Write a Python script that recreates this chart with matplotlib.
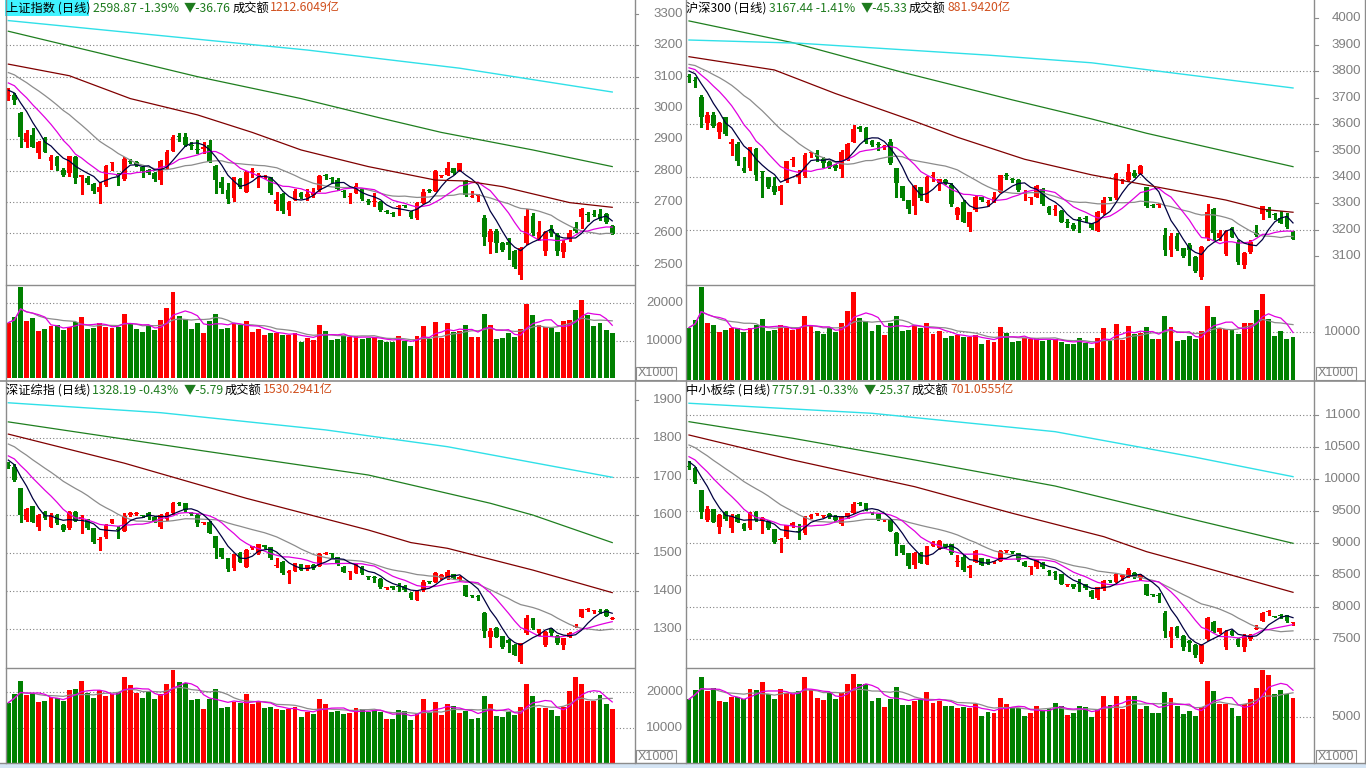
import numpy as np
import pandas as pd
import matplotlib
matplotlib.use('Agg')
import matplotlib.pyplot as plt
from matplotlib.patches import Rectangle
from matplotlib.transforms import blended_transform_factory

W, H = 1366, 768

# ---------------------------------------------------------------------------
# data: 100 daily candles per index, volume in x1000
# ---------------------------------------------------------------------------

# 上证指数
SH_OPEN = [3038, 3041, 2983, 2892, 2914, 2857, 2903, 2832, 2843, 2802,
           2792, 2845, 2779, 2776, 2757, 2733, 2754, 2823, 2784, 2773,
           2831, 2829, 2812, 2802, 2793, 2770, 2813, 2864, 2910, 2908,
           2880, 2869, 2868, 2882, 2815, 2765, 2738, 2712, 2772, 2733,
           2796, 2782, 2779, 2776, 2693, 2725, 2674, 2706, 2730, 2715,
           2722, 2738, 2784, 2776, 2770, 2734, 2716, 2730, 2740, 2702,
           2700, 2701, 2670, 2663, 2684, 2688, 2669, 2648, 2698, 2737,
           2736, 2782, 2786, 2807, 2800, 2768, 2716, 2718, 2648, 2573,
           2608, 2570, 2573, 2544, 2467, 2568, 2655, 2581, 2544, 2613,
           2595, 2541, 2581, 2619, 2651, 2662, 2660, 2662, 2662, 2623]
SH_CLOSE = [3041, 3025, 2908, 2919, 2876, 2892, 2861, 2845, 2816, 2786,
            2847, 2777, 2786, 2762, 2736, 2747, 2815, 2825, 2782, 2838,
            2829, 2818, 2800, 2793, 2772, 2832, 2861, 2908, 2907, 2882,
            2878, 2867, 2876, 2829, 2770, 2744, 2708, 2779, 2747, 2797,
            2798, 2784, 2783, 2728, 2706, 2672, 2700, 2736, 2717, 2725,
            2730, 2783, 2782, 2774, 2740, 2732, 2718, 2751, 2709, 2700,
            2703, 2674, 2668, 2661, 2686, 2686, 2653, 2698, 2733, 2735,
            2800, 2784, 2807, 2793, 2823, 2722, 2718, 2720, 2587, 2608,
            2570, 2547, 2563, 2491, 2552, 2655, 2600, 2605, 2605, 2602,
            2544, 2570, 2602, 2608, 2677, 2660, 2658, 2645, 2636, 2599]
SH_HIGH = [3064, 3048, 2987, 2930, 2935, 2894, 2906, 2850, 2846, 2808,
           2848, 2847, 2787, 2783, 2760, 2765, 2818, 2829, 2793, 2845,
           2836, 2832, 2815, 2804, 2795, 2834, 2866, 2914, 2919, 2919,
           2892, 2898, 2890, 2898, 2818, 2781, 2760, 2781, 2776, 2800,
           2807, 2792, 2786, 2779, 2733, 2728, 2702, 2741, 2733, 2741,
           2746, 2786, 2790, 2780, 2775, 2738, 2728, 2762, 2744, 2708,
           2728, 2704, 2675, 2668, 2690, 2689, 2671, 2700, 2741, 2741,
           2801, 2787, 2829, 2810, 2826, 2771, 2736, 2726, 2658, 2614,
           2614, 2571, 2584, 2547, 2557, 2676, 2664, 2638, 2608, 2627,
           2600, 2578, 2612, 2635, 2680, 2669, 2675, 2677, 2665, 2625]
SH_LOW = [3026, 3013, 2876, 2876, 2874, 2839, 2858, 2804, 2802, 2783,
          2783, 2760, 2724, 2757, 2730, 2696, 2752, 2802, 2754, 2770,
          2825, 2815, 2781, 2790, 2768, 2757, 2810, 2862, 2896, 2880,
          2868, 2855, 2855, 2827, 2730, 2728, 2696, 2703, 2745, 2731,
          2781, 2747, 2775, 2725, 2674, 2664, 2658, 2705, 2712, 2706,
          2715, 2736, 2772, 2765, 2738, 2717, 2696, 2728, 2706, 2695,
          2687, 2672, 2664, 2656, 2658, 2684, 2650, 2646, 2697, 2731,
          2735, 2780, 2786, 2790, 2798, 2720, 2715, 2703, 2563, 2538,
          2541, 2544, 2517, 2490, 2453, 2567, 2595, 2580, 2531, 2590,
          2530, 2525, 2576, 2605, 2617, 2640, 2655, 2643, 2633, 2597]
SH_VOL = [14750, 16180, 24350, 15280, 15910, 12620, 13070, 13950, 14130, 12890,
          13690, 14840, 16350, 13070, 13420, 14750, 13690, 13420, 13690, 17150,
          14750, 12980, 12350, 13870, 12800, 15470, 18750, 22930, 16620, 15640,
          13070, 14750, 12090, 15200, 17150, 12980, 13420, 14580, 14040, 15200,
          12350, 12980, 11380, 11910, 12090, 11470, 11470, 12090, 9690, 10750,
          10130, 14220, 12530, 10220, 10490, 11290, 11020, 11200, 10490, 10580,
          10850, 10130, 9690, 9510, 11200, 9950, 8530, 11200, 13870, 10490,
          15020, 10670, 14580, 12350, 12620, 14220, 11020, 11020, 17150, 14220,
          10490, 10750, 11910, 10850, 13150, 19820, 16890, 14040, 13510, 13330,
          12350, 15280, 15560, 18130, 20800, 16890, 13870, 14670, 12800, 12090]
SH_PRE = [3170, 3165, 3160, 3155, 3150, 3145, 3140, 3132, 3125, 3118,
          3115, 3110, 3102, 3098, 3090, 3070, 3065, 3058, 3051]
SH_MA60_X = [0, 10, 20, 31, 40, 48, 59, 70, 75, 81, 92, 99]
SH_MA60 = [3140, 3103, 3030, 2978, 2922, 2866, 2813, 2770, 2767, 2749, 2698, 2683]
SH_MA120_X = [0, 15, 31, 48, 61, 71, 86, 99]
SH_MA120 = [3245, 3175, 3100, 3030, 2968, 2922, 2866, 2813]
SH_MA250_X = [0, 49, 74, 99]
SH_MA250 = [3279, 3185, 3127, 3051]

# 沪深300
HS_OPEN = [3778, 3765, 3703, 3605, 3634, 3571, 3625, 3523, 3523, 3433,
           3433, 3506, 3422, 3399, 3366, 3348, 3385, 3463, 3399, 3404,
           3490, 3492, 3467, 3458, 3445, 3429, 3467, 3533, 3588, 3584,
           3537, 3524, 3513, 3533, 3433, 3366, 3313, 3291, 3361, 3307,
           3402, 3376, 3389, 3370, 3257, 3307, 3212, 3275, 3323, 3300,
           3307, 3345, 3405, 3392, 3389, 3335, 3322, 3326, 3354, 3288,
           3274, 3273, 3229, 3219, 3241, 3245, 3225, 3197, 3263, 3321,
           3320, 3385, 3389, 3416, 3411, 3361, 3292, 3294, 3181, 3125,
           3177, 3131, 3143, 3097, 3021, 3169, 3278, 3169, 3109, 3206,
           3152, 3068, 3118, 3190, 3260, 3278, 3258, 3244, 3253, 3197]
HS_CLOSE = [3776, 3763, 3625, 3634, 3592, 3605, 3562, 3533, 3462, 3423,
            3512, 3408, 3420, 3363, 3345, 3366, 3460, 3465, 3411, 3483,
            3492, 3474, 3452, 3439, 3433, 3495, 3525, 3580, 3580, 3533,
            3521, 3522, 3515, 3452, 3376, 3320, 3278, 3366, 3320, 3401,
            3404, 3391, 3376, 3298, 3282, 3231, 3269, 3326, 3313, 3302,
            3326, 3408, 3403, 3390, 3351, 3337, 3324, 3366, 3298, 3263,
            3276, 3231, 3227, 3203, 3239, 3243, 3206, 3269, 3313, 3319,
            3411, 3387, 3420, 3404, 3442, 3291, 3290, 3296, 3125, 3177,
            3127, 3102, 3125, 3046, 3137, 3269, 3188, 3188, 3197, 3175,
            3080, 3112, 3156, 3181, 3291, 3269, 3256, 3228, 3213, 3167]
HS_HIGH = [3789, 3779, 3710, 3646, 3646, 3609, 3628, 3542, 3533, 3477,
           3512, 3508, 3422, 3401, 3401, 3370, 3462, 3474, 3426, 3492,
           3495, 3502, 3477, 3460, 3449, 3502, 3528, 3596, 3592, 3590,
           3540, 3533, 3520, 3542, 3433, 3366, 3313, 3370, 3363, 3404,
           3420, 3391, 3391, 3376, 3285, 3313, 3269, 3330, 3326, 3313,
           3345, 3408, 3416, 3395, 3391, 3351, 3326, 3370, 3357, 3291,
           3294, 3275, 3240, 3225, 3250, 3253, 3228, 3270, 3326, 3326,
           3416, 3391, 3449, 3426, 3445, 3363, 3298, 3300, 3206, 3190,
           3190, 3133, 3150, 3100, 3140, 3298, 3282, 3200, 3200, 3212,
           3162, 3118, 3162, 3219, 3291, 3285, 3263, 3270, 3263, 3197]
HS_LOW = [3760, 3741, 3588, 3580, 3590, 3546, 3560, 3483, 3445, 3420,
          3426, 3389, 3323, 3360, 3336, 3298, 3383, 3442, 3379, 3401,
          3477, 3462, 3436, 3433, 3426, 3401, 3465, 3533, 3575, 3530,
          3518, 3502, 3505, 3449, 3326, 3313, 3263, 3260, 3313, 3304,
          3386, 3350, 3374, 3291, 3243, 3231, 3197, 3272, 3310, 3290,
          3305, 3343, 3391, 3381, 3348, 3313, 3298, 3323, 3294, 3260,
          3257, 3229, 3213, 3200, 3193, 3231, 3204, 3195, 3260, 3313,
          3318, 3379, 3386, 3401, 3410, 3288, 3285, 3285, 3106, 3100,
          3125, 3097, 3068, 3040, 3015, 3162, 3162, 3162, 3106, 3172,
          3070, 3055, 3112, 3178, 3240, 3250, 3240, 3225, 3208, 3165]
HS_VOL = [11000, 12500, 19500, 12000, 11500, 10000, 10500, 11000, 11000, 10000,
          11000, 11500, 12800, 10300, 10500, 11500, 10800, 10500, 10800, 13500,
          11500, 10200, 9700, 10800, 10000, 12000, 14500, 18500, 13000, 12300,
          10200, 11500, 9500, 12000, 13500, 10200, 10500, 11400, 11000, 12000,
          9700, 10200, 8900, 9300, 9500, 9000, 9000, 9500, 7600, 8400,
          7900, 11200, 9800, 8000, 8200, 8800, 8600, 8800, 8200, 8300,
          8500, 8000, 7600, 7500, 8800, 7800, 6700, 8800, 10900, 8200,
          11800, 8400, 11400, 9700, 9900, 11200, 8600, 8600, 13500, 11200,
          8200, 8400, 9300, 8500, 10300, 15500, 13200, 11000, 10600, 10400,
          9700, 12000, 11950, 14680, 18030, 12720, 9220, 10270, 8600, 8950]
HS_PRE = [3850, 3848, 3845, 3842, 3840, 3836, 3834, 3832, 3828, 3825,
          3830, 3828, 3824, 3820, 3818, 3815, 3810, 3802, 3797]
HS_MA60_X = [0, 14, 24, 37, 44, 55, 66, 77, 88, 94, 99]
HS_MA60 = [3854, 3804, 3715, 3610, 3550, 3467, 3408, 3361, 3313, 3278, 3267]
HS_MA120_X = [0, 17, 35, 53, 66, 75, 99]
HS_MA120 = [3989, 3907, 3795, 3691, 3619, 3565, 3439]
HS_MA250_X = [0, 18, 49, 66, 99]
HS_MA250 = [3917, 3905, 3860, 3831, 3736]

# 深证综指
SZ_OPEN = [1730, 1724, 1669, 1586, 1623, 1569, 1608, 1569, 1599, 1573,
           1564, 1608, 1588, 1586, 1564, 1535, 1542, 1578, 1561, 1558,
           1598, 1603, 1598, 1605, 1595, 1567, 1588, 1604, 1629, 1630,
           1605, 1599, 1577, 1582, 1544, 1512, 1486, 1460, 1501, 1464,
           1512, 1499, 1520, 1515, 1467, 1477, 1447, 1453, 1471, 1457,
           1468, 1466, 1498, 1498, 1488, 1464, 1450, 1448, 1464, 1437,
           1437, 1431, 1409, 1413, 1413, 1413, 1396, 1377, 1403, 1426,
           1425, 1434, 1438, 1445, 1431, 1416, 1388, 1386, 1342, 1279,
           1303, 1282, 1272, 1259, 1215, 1290, 1329, 1291, 1259, 1300,
           1282, 1259, 1281, 1306, 1331, 1351, 1348, 1347, 1351, 1327]
SZ_CLOSE = [1728, 1691, 1599, 1614, 1582, 1599, 1591, 1599, 1578, 1560,
            1608, 1584, 1595, 1564, 1529, 1537, 1573, 1588, 1559, 1597,
            1605, 1604, 1597, 1593, 1582, 1599, 1605, 1630, 1627, 1612,
            1603, 1578, 1579, 1553, 1512, 1488, 1457, 1497, 1477, 1508,
            1518, 1523, 1515, 1486, 1469, 1447, 1453, 1473, 1455, 1468,
            1460, 1497, 1500, 1497, 1471, 1451, 1452, 1471, 1447, 1436,
            1435, 1410, 1411, 1407, 1411, 1403, 1381, 1403, 1425, 1424,
            1448, 1442, 1451, 1434, 1438, 1387, 1386, 1384, 1296, 1296,
            1281, 1254, 1263, 1233, 1263, 1329, 1303, 1300, 1294, 1291,
            1263, 1276, 1291, 1308, 1352, 1353, 1350, 1345, 1334, 1328]
SZ_HIGH = [1739, 1732, 1669, 1617, 1624, 1601, 1610, 1604, 1601, 1575,
           1609, 1610, 1599, 1590, 1566, 1542, 1575, 1589, 1570, 1604,
           1608, 1607, 1600, 1608, 1597, 1601, 1606, 1632, 1632, 1631,
           1606, 1601, 1581, 1583, 1545, 1514, 1487, 1498, 1502, 1510,
           1519, 1524, 1521, 1516, 1486, 1480, 1455, 1474, 1472, 1469,
           1470, 1499, 1502, 1499, 1490, 1466, 1453, 1472, 1466, 1440,
           1440, 1433, 1412, 1414, 1420, 1415, 1397, 1404, 1428, 1427,
           1449, 1445, 1455, 1446, 1440, 1417, 1390, 1390, 1345, 1303,
           1305, 1283, 1275, 1261, 1264, 1337, 1330, 1302, 1295, 1303,
           1284, 1277, 1293, 1313, 1353, 1356, 1351, 1353, 1352, 1331]
SZ_LOW = [1723, 1688, 1582, 1584, 1581, 1560, 1589, 1567, 1576, 1558,
          1563, 1583, 1553, 1562, 1527, 1508, 1540, 1577, 1538, 1557,
          1597, 1600, 1594, 1588, 1580, 1566, 1587, 1603, 1625, 1610,
          1600, 1570, 1575, 1551, 1486, 1487, 1453, 1455, 1476, 1463,
          1511, 1498, 1514, 1485, 1464, 1444, 1422, 1452, 1454, 1455,
          1458, 1465, 1496, 1490, 1469, 1449, 1431, 1447, 1446, 1431,
          1425, 1408, 1405, 1406, 1401, 1401, 1380, 1376, 1401, 1420,
          1424, 1432, 1432, 1433, 1430, 1386, 1384, 1378, 1280, 1254,
          1280, 1252, 1240, 1232, 1213, 1289, 1302, 1286, 1256, 1286,
          1261, 1249, 1280, 1305, 1331, 1348, 1342, 1343, 1334, 1326]
SZ_VOL = [17030, 19580, 23160, 19210, 19690, 17320, 17600, 18730, 18280, 17600,
          20620, 20900, 23160, 19690, 18450, 20620, 19010, 19400, 20140, 24380,
          22030, 19690, 18450, 19970, 18080, 19400, 22320, 26270, 22880, 22510,
          17800, 18080, 15250, 17990, 20900, 15620, 15900, 17150, 16860, 19580,
          16580, 17150, 15620, 15900, 15250, 14970, 15170, 15730, 13080, 14490,
          13760, 18080, 16670, 14490, 14690, 13760, 14040, 15540, 15250, 14490,
          14970, 14490, 12510, 12510, 14970, 14690, 12150, 13760, 18080, 14490,
          17150, 13560, 16670, 16190, 14040, 14690, 12340, 12630, 18930, 16670,
          13360, 13080, 14320, 13560, 15900, 22320, 19010, 15450, 15620, 14970,
          13280, 15900, 20420, 24380, 22320, 17510, 17510, 19290, 16670, 15250]
SZ_PRE = [1835, 1830, 1826, 1821, 1817, 1814, 1810, 1806, 1803, 1798,
          1772, 1768, 1765, 1762, 1758, 1752, 1749, 1745, 1741]
SZ_MA60_X = [0, 19, 39, 59, 66, 72, 86, 99]
SZ_MA60 = [1811, 1735, 1643, 1560, 1527, 1512, 1455, 1396]
SZ_MA120_X = [0, 32, 59, 79, 86, 99]
SZ_MA120 = [1843, 1767, 1704, 1630, 1599, 1527]
SZ_MA250_X = [0, 25, 52, 72, 99]
SZ_MA250 = [1893, 1867, 1822, 1778, 1698]

# 中小板综
ZX_OPEN = [10195, 10172, 9833, 9364, 9531, 9250, 9494, 9234, 9442, 9302,
           9234, 9494, 9353, 9353, 9219, 9045, 9094, 9270, 9185, 9156,
           9406, 9455, 9424, 9458, 9427, 9302, 9406, 9478, 9618, 9625,
           9482, 9458, 9360, 9375, 9166, 8973, 8844, 8661, 8853, 8677,
           8958, 8922, 8989, 8989, 8710, 8791, 8609, 8713, 8766, 8750,
           8700, 8728, 8880, 8872, 8844, 8713, 8622, 8625, 8697, 8560,
           8545, 8520, 8345, 8364, 8368, 8364, 8259, 8141, 8281, 8420,
           8400, 8469, 8478, 8541, 8453, 8364, 8196, 8180, 7916, 7531,
           7688, 7552, 7478, 7411, 7150, 7500, 7775, 7619, 7384, 7634,
           7500, 7384, 7500, 7668, 7791, 7928, 7856, 7866, 7880, 7750]
ZX_CLOSE = [10188, 9963, 9494, 9531, 9338, 9442, 9375, 9427, 9338, 9219,
            9478, 9364, 9391, 9234, 9025, 9052, 9286, 9322, 9181, 9406,
            9442, 9458, 9427, 9406, 9364, 9416, 9469, 9614, 9614, 9531,
            9478, 9375, 9364, 9197, 8989, 8844, 8645, 8853, 8697, 8958,
            9025, 9041, 8938, 8844, 8713, 8583, 8645, 8884, 8661, 8677,
            8720, 8884, 8884, 8869, 8739, 8645, 8625, 8739, 8625, 8556,
            8541, 8364, 8348, 8313, 8364, 8297, 8166, 8313, 8416, 8416,
            8520, 8505, 8583, 8469, 8505, 8192, 8192, 8177, 7634, 7634,
            7552, 7384, 7438, 7255, 7411, 7828, 7634, 7672, 7603, 7567,
            7411, 7552, 7567, 7672, 7906, 7931, 7853, 7864, 7783, 7758]
ZX_HIGH = [10291, 10188, 9833, 9580, 9540, 9460, 9500, 9460, 9450, 9310,
           9490, 9500, 9406, 9360, 9225, 9080, 9290, 9330, 9300, 9420,
           9460, 9470, 9440, 9470, 9440, 9430, 9475, 9640, 9640, 9630,
           9490, 9465, 9370, 9380, 9181, 8980, 8853, 8860, 8860, 8965,
           9030, 9045, 8995, 8995, 8817, 8815, 8661, 8890, 8775, 8760,
           8730, 8890, 8900, 8880, 8850, 8720, 8630, 8745, 8705, 8580,
           8570, 8525, 8355, 8370, 8437, 8370, 8265, 8320, 8430, 8430,
           8530, 8520, 8610, 8550, 8515, 8370, 8200, 8220, 7947, 7697,
           7700, 7560, 7490, 7425, 7420, 7845, 7790, 7680, 7640, 7650,
           7520, 7580, 7575, 7720, 7920, 7950, 7860, 7900, 7885, 7770]
ZX_LOW = [10156, 9938, 9390, 9350, 9330, 9160, 9370, 9170, 9330, 9210,
          9225, 9355, 9156, 9225, 9010, 8869, 9090, 9260, 9062, 9150,
          9400, 9440, 9410, 9400, 9355, 9290, 9400, 9470, 9600, 9520,
          9460, 9370, 9355, 9190, 8817, 8835, 8610, 8620, 8690, 8670,
          8950, 8915, 8930, 8840, 8645, 8570, 8478, 8705, 8655, 8670,
          8690, 8720, 8870, 8850, 8730, 8640, 8520, 8620, 8620, 8500,
          8440, 8360, 8340, 8305, 8259, 8290, 8150, 8130, 8275, 8400,
          8395, 8420, 8470, 8460, 8445, 8185, 8180, 8088, 7541, 7384,
          7530, 7330, 7320, 7230, 7134, 7490, 7620, 7600, 7350, 7560,
          7400, 7320, 7490, 7660, 7780, 7880, 7850, 7840, 7775, 7730]
ZX_VOL = [6970, 7990, 9440, 7910, 8170, 6780, 6640, 7250, 7190, 6970,
          8100, 7990, 8830, 7520, 6970, 8100, 7630, 7520, 7880, 9380,
          7990, 7150, 6890, 7630, 7000, 7630, 8640, 9740, 8640, 8640,
          6780, 7150, 6160, 7000, 8350, 6350, 6350, 6820, 6970, 7770,
          6530, 6780, 6270, 6270, 6050, 6160, 6050, 6420, 5170, 5550,
          5440, 7150, 6460, 5990, 5990, 5170, 5500, 6240, 5720, 6050,
          6530, 6240, 5250, 5440, 6270, 6090, 5070, 5800, 7330, 6350,
          7330, 5940, 7330, 7330, 5910, 6240, 5500, 5500, 7770, 7080,
          6270, 5360, 5720, 5170, 6160, 8970, 7880, 6420, 6420, 6050,
          5170, 6420, 7000, 8240, 10180, 9630, 7520, 7990, 7520, 7150]
ZX_PRE = [10810, 10790, 10770, 10750, 10730, 10710, 10690, 10670, 10645, 10625,
          10470, 10450, 10430, 10410, 10395, 10330, 10305, 10285, 10267]
ZX_MA60_X = [0, 17, 37, 53, 68, 75, 83, 99]
ZX_MA60 = [10692, 10302, 9884, 9469, 9103, 8869, 8661, 8234]
ZX_MA120_X = [0, 17, 37, 60, 83, 99]
ZX_MA120 = [10900, 10641, 10302, 9895, 9364, 9000]
ZX_MA250_X = [0, 30, 60, 83, 99]
ZX_MA250 = [11188, 11031, 10744, 10344, 10041]

# ---------------------------------------------------------------------------
# styles
# ---------------------------------------------------------------------------
UP = '#FF0000'
DOWN = '#008000'
MA_COLORS = {5: '#000040', 10: '#E000E0', 20: '#8C8C8C'}
MA60_C, MA120_C, MA250_C = '#800000', '#1F7F1F', '#30E0E8'
GRID_C = '#808080'
BORDER_C = '#8C8C8C'
LABEL_C = '#7F7F7F'
NUM_FONT = ['Liberation Sans', 'DejaVu Sans']
CJK_FONT = ['Noto Sans CJK SC', 'DejaVu Sans']

fig = plt.figure(figsize=(W / 100, H / 100), dpi=100)
fig.patch.set_facecolor('white')

ov = fig.add_axes([0, 0, 1, 1], zorder=10)
ov.set_xlim(0, W)
ov.set_ylim(H, 0)
ov.axis('off')


def px_axes(x0, x1, y0, y1):
    ax = fig.add_axes([x0 / W, 1 - y1 / H, (x1 - x0) / W, (y1 - y0) / H])
    ax.set_xticks([])
    ax.set_yticks([])
    for s in ax.spines.values():
        s.set_visible(False)
    return ax


def draw_panel(p):
    o, h, l, c = (np.asarray(p[k], float) for k in ('open', 'high', 'low', 'close'))
    vol = np.asarray(p['vol'], float)
    n = len(c)
    x = np.arange(n)
    x0, x1 = p['xs']
    ya, yb, yc = p['ys']

    # price part
    ax = px_axes(x0, x1, ya, yb)
    ax.set_xlim(*p['xlim'])
    ax.set_ylim(*p['ylim'])
    ppx = (p['ylim'][1] - p['ylim'][0]) / (yb - ya)
    for g in p['grid']:
        ax.axhline(g, color=GRID_C, lw=0.8, ls=(0, (1, 2)), zorder=1)
    up = c > o
    col = np.where(up, UP, DOWN)
    ax.vlines(x, np.minimum(l, np.minimum(o, c)), np.maximum(h, np.maximum(o, c)),
              colors=col, lw=1, zorder=2, antialiased=False)
    ax.bar(x, np.maximum(np.abs(c - o), ppx), bottom=np.minimum(o, c), width=0.78,
           color=col, lw=0, zorder=2.5, antialiased=False)

    full = pd.Series(list(p['pre']) + list(c))
    for k in (20, 10, 5):
        ma = full.rolling(k).mean().values[-n:]
        ax.plot(x, ma, color=MA_COLORS[k], lw=0.9, zorder=3)
    ax.plot(p['ma60'][0], p['ma60'][1], color=MA60_C, lw=0.9, zorder=3)
    ax.plot(p['ma120'][0], p['ma120'][1], color=MA120_C, lw=0.9, zorder=3)
    ax.plot(p['ma250'][0], p['ma250'][1], color=MA250_C, lw=1.0, zorder=3)

    # volume part
    av = px_axes(x0, x1, yb, yc)
    av.set_xlim(*p['xlim'])
    av.set_ylim(*p['vlim'])
    for g in p['vticks']:
        av.axhline(g, color=GRID_C, lw=0.8, ls=(0, (1, 2)), zorder=1)
    av.bar(x, vol, width=0.8, color=col, lw=0, zorder=2, antialiased=False)
    vs = pd.Series(vol)
    av.plot(x, vs.rolling(10, min_periods=1).mean(), color='#8C8C8C', lw=0.9, zorder=3)
    av.plot(x, vs.rolling(5, min_periods=1).mean(), color='#E000E0', lw=0.9, zorder=3)

    # axis labels (right side column)
    tp = blended_transform_factory(ov.transData, ax.transData)
    tv = blended_transform_factory(ov.transData, av.transData)
    lx = p['label_x']
    for t in p['ticks']:
        ov.text(lx, t, f'{t}', transform=tp, ha='right', va='center',
                fontsize=9.5, color=LABEL_C, family=NUM_FONT)
        ov.plot([x1 + 1, x1 + 4], [t, t], transform=tp, color=BORDER_C, lw=0.8)
    for t in p['vticks']:
        ov.text(lx, t, f'{t}', transform=tv, ha='right', va='center',
                fontsize=9.5, color=LABEL_C, family=NUM_FONT)

    # separator between price and volume
    ov.plot([x0, x1], [yb, yb], color=BORDER_C, lw=1)

    # x1000 box
    bx = x1 + 2
    ov.add_patch(Rectangle((bx, yc - 13), 40, 13, facecolor='white',
                           edgecolor=BORDER_C, lw=0.8))
    ov.text(bx + 20, yc - 6.5, 'X1000', ha='center', va='center',
            fontsize=9, color=LABEL_C, family=NUM_FONT)

    # title line
    ty = ya + 8
    if p.get('highlight'):
        ov.add_patch(Rectangle((x0 - 1, ya), 84, 16, facecolor='#3FF3FF',
                               edgecolor='none'))
    for (tx, s, cl) in p['title']:
        ov.text(tx, ty, s, ha='left', va='center', fontsize=8.8, color=cl,
                family=CJK_FONT)


G = '#1E7B1E'
AMT = '#D0501E'
panels = [
    dict(open=SH_OPEN, high=SH_HIGH, low=SH_LOW, close=SH_CLOSE, vol=SH_VOL,
         pre=SH_PRE, ma60=(SH_MA60_X, SH_MA60), ma120=(SH_MA120_X, SH_MA120),
         ma250=(SH_MA250_X, SH_MA250),
         xs=(6, 634), ys=(0, 285, 380), xlim=(-0.38, 102.57),
         ylim=(2435, 3344.7), vlim=(-533, 24800),
         grid=list(range(2500, 3201, 100)), ticks=list(range(2500, 3301, 100)),
         vticks=[10000, 20000], label_x=683, highlight=True,
         title=[(6, '上证指数 (日线)', 'black'), (93, '2598.87 -1.39%', G),
                (184, '▼-36.76', G), (233, '成交额', 'black'),
                (270, '1212.6049亿', AMT)]),
    dict(open=HS_OPEN, high=HS_HIGH, low=HS_LOW, close=HS_CLOSE, vol=HS_VOL,
         pre=HS_PRE, ma60=(HS_MA60_X, HS_MA60), ma120=(HS_MA120_X, HS_MA120),
         ma250=(HS_MA250_X, HS_MA250),
         xs=(686, 1314), ys=(0, 285, 380), xlim=(-0.49, 102.44),
         ylim=(2992.4, 4068), vlim=(0, 19916),
         grid=list(range(3200, 3801, 200)), ticks=list(range(3100, 4001, 100)),
         vticks=[10000], label_x=1361,
         title=[(686, '沪深300 (日线)', 'black'), (769, '3167.44 -1.41%', G),
                (861, '▼-45.33', G), (909, '成交额', 'black'),
                (947, '881.9420亿', AMT)]),
    dict(open=SZ_OPEN, high=SZ_HIGH, low=SZ_LOW, close=SZ_CLOSE, vol=SZ_VOL,
         pre=SZ_PRE, ma60=(SZ_MA60_X, SZ_MA60), ma120=(SZ_MA120_X, SZ_MA120),
         ma250=(SZ_MA250_X, SZ_MA250),
         xs=(6, 634), ys=(382, 668, 763), xlim=(-0.38, 102.57),
         ylim=(1198.7, 1947.4), vlim=(0, 26836),
         grid=list(range(1300, 1801, 100)), ticks=list(range(1300, 1901, 100)),
         vticks=[10000, 20000], label_x=683,
         title=[(6, '深证综指 (日线)', 'black'), (92, '1328.19 -0.43%', G),
                (184, '▼-5.79', G), (225, '成交额', 'black'),
                (263, '1530.2941亿', AMT)]),
    dict(open=ZX_OPEN, high=ZX_HIGH, low=ZX_LOW, close=ZX_CLOSE, vol=ZX_VOL,
         pre=ZX_PRE, ma60=(ZX_MA60_X, ZX_MA60), ma120=(ZX_MA120_X, ZX_MA120),
         ma250=(ZX_MA250_X, ZX_MA250),
         xs=(686, 1314), ys=(382, 668, 763), xlim=(-0.49, 102.44),
         ylim=(7051.6, 11520), vlim=(0, 10394),
         grid=list(range(7500, 11001, 500)), ticks=list(range(7500, 11001, 500)),
         vticks=[5000], label_x=1361,
         title=[(686, '中小板综 (日线)', 'black'), (772, '7757.91 -0.33%', G),
                (864, '▼-25.37', G), (912, '成交额', 'black'),
                (950, '701.0555亿', AMT)]),
]

for p in panels:
    draw_panel(p)

# window frame lines
for xv in (6, 635, 686, 1314, 1365):
    ov.plot([xv, xv], [0, 763], color=BORDER_C, lw=1)
ov.plot([0, W], [381, 381], color=BORDER_C, lw=1.2)
ov.plot([0, W], [763, 763], color=BORDER_C, lw=1)
ov.add_patch(Rectangle((0, 764), W, 4, facecolor='#D4E4F4', edgecolor='none'))

fig.savefig('out.png', dpi=100)
